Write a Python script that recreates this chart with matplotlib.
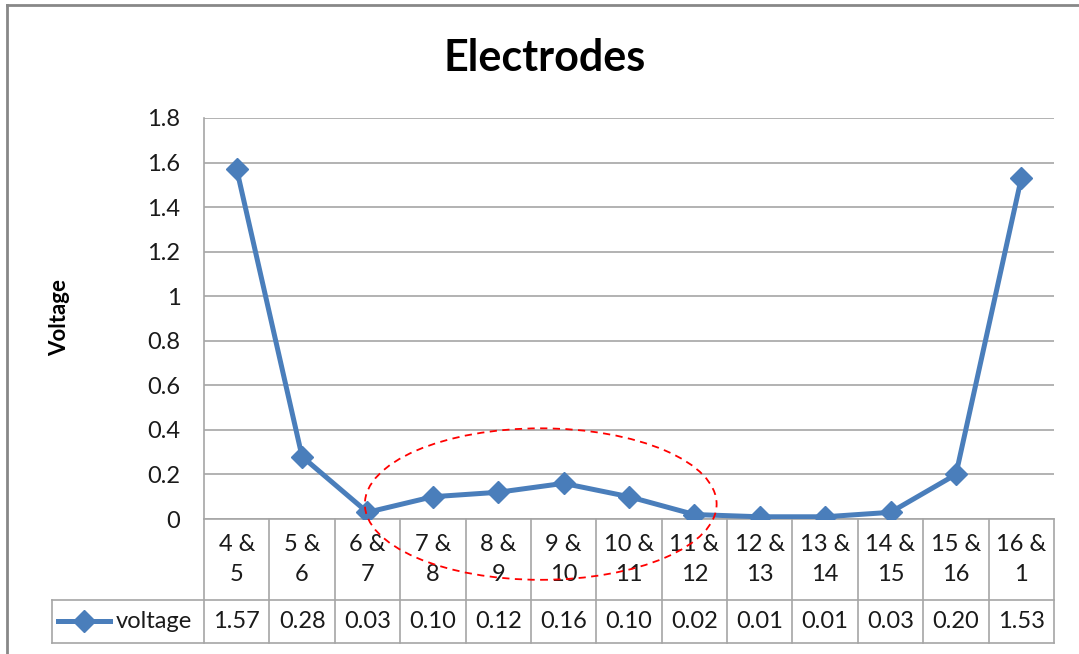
import numpy as np
import matplotlib
matplotlib.use("Agg")
import matplotlib.pyplot as plt
from matplotlib.patches import Ellipse
from matplotlib.lines import Line2D

# data
categories = ["4 &\n5", "5 &\n6", "6 &\n7", "7 &\n8", "8 &\n9", "9 &\n10", "10 &\n11",
              "11 &\n12", "12 &\n13", "13 &\n14", "14 &\n15", "15 &\n16", "16 &\n1"]
voltage = [1.57, 0.28, 0.03, 0.10, 0.12, 0.16, 0.10, 0.02, 0.01, 0.01, 0.03, 0.20, 1.53]
yticks = [0, 0.2, 0.4, 0.6, 0.8, 1, 1.2, 1.4, 1.6, 1.8]
ytick_labels = ["0", "0.2", "0.4", "0.6", "0.8", "1", "1.2", "1.4", "1.6", "1.8"]

plt.rcParams['font.family'] = ['Lato', 'DejaVu Sans']
blue = '#4A7EBB'
grid = '#A6A6A6'
txt = '#1a1a1a'
fs = 17

W, H = 1079, 654
fig = plt.figure(figsize=(W / 100, H / 100), dpi=100)
ax = fig.add_axes([204 / W, 1 - 519 / H, 850 / W, 401 / H])

x = np.arange(len(voltage))
ax.plot(x, voltage, color=blue, lw=3.6, marker='D', ms=11, zorder=3)
ax.set_xlim(-0.5, len(voltage) - 0.5)
ax.set_ylim(0, 1.8)
ax.set_yticks(yticks)
ax.set_yticklabels(ytick_labels, fontsize=fs, color=txt)
ax.set_xticks([])
ax.tick_params(axis='y', length=0, pad=17)
ax.grid(axis='y', color=grid, lw=1.2)
ax.set_axisbelow(True)
for s in ['top', 'right']:
    ax.spines[s].set_visible(False)
for s in ['left', 'bottom']:
    ax.spines[s].set_color(grid)
    ax.spines[s].set_linewidth(1.2)

fig.text(545 / W, 1 - 58 / H, "Electrodes", fontsize=31, fontweight='bold',
         ha='center', va='center', color='black')
fig.text(60 / W, 1 - 318 / H, "Voltage", rotation=90, fontsize=16, fontweight='bold',
         ha='center', va='center', color='black')

# data table below the axes
tr = ax.get_xaxis_transform()
cat_bot = -81 / 401
row_bot = -124 / 401
leg_left = -152 / 850
n = len(voltage)
kw = dict(color=grid, lw=1.2, clip_on=False, transform=ax.transAxes)
ax.add_line(Line2D([leg_left, 1], [cat_bot, cat_bot], **kw))
ax.add_line(Line2D([leg_left, 1], [row_bot, row_bot], **kw))
ax.add_line(Line2D([leg_left, leg_left], [cat_bot, row_bot], **kw))
for i in range(n + 1):
    xa = i / n
    ax.add_line(Line2D([xa, xa], [0, row_bot], **kw))
for i in range(n):
    ax.text(i, cat_bot / 2, categories[i], transform=tr, ha='center', va='center',
            fontsize=fs, color=txt, linespacing=1.5)
    ax.text(i, (cat_bot + row_bot) / 2, "%.2f" % voltage[i], transform=tr,
            ha='center', va='center', fontsize=fs, color=txt)

# legend key in the table
ymid = 1 - 621 / H
fig.add_artist(Line2D([58 / W, 110 / W], [ymid, ymid], color=blue, lw=3.6,
                      transform=fig.transFigure))
fig.add_artist(Line2D([84 / W], [ymid], color=blue, marker='D', ms=11, lw=0,
                      transform=fig.transFigure))
fig.text(116 / W, ymid, "voltage", fontsize=fs, va='center', color=txt)

# red dashed ellipse
ax.add_patch(Ellipse((4.65, 0.067), 5.38, 0.68, fill=False, ec='red', ls=(0, (4, 3)),
                     lw=1.3, clip_on=False, zorder=4))

# outer chart border
fig.add_artist(Line2D([7 / W, 7 / W], [0, 1 - 5 / H], color='#888888', lw=2,
                      transform=fig.transFigure))
fig.add_artist(Line2D([7 / W, 1], [1 - 5 / H, 1 - 5 / H], color='#888888', lw=2,
                      transform=fig.transFigure))

fig.savefig("out.png", dpi=100)
